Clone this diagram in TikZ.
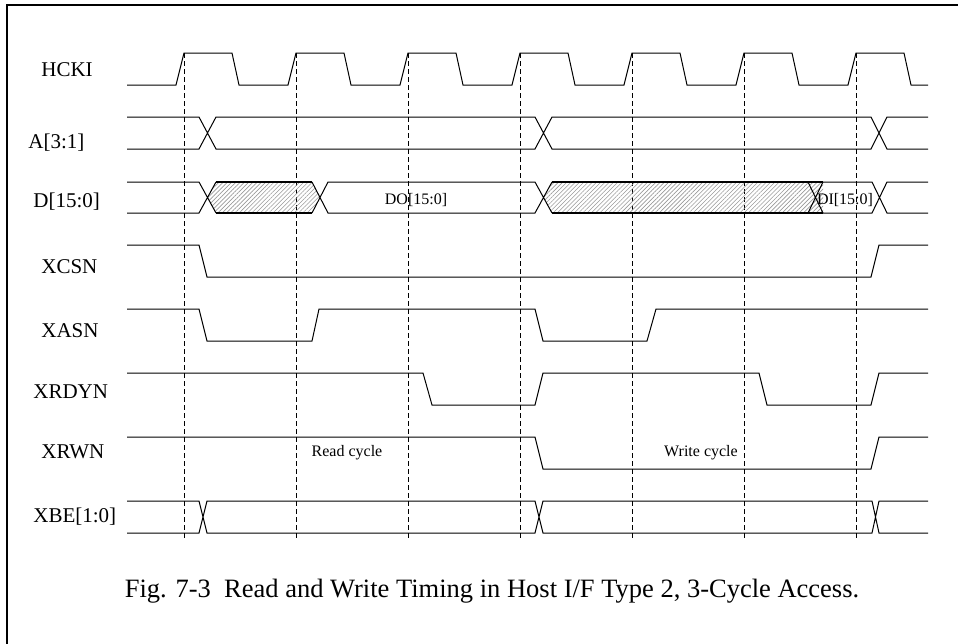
\documentclass[tikz,border=0pt]{standalone}
\usepackage{fontspec}
\setmainfont{Liberation Serif}
\usetikzlibrary{patterns.meta}
\tikzset{
  sig/.style={line width=.5pt},
  busedge/.style={line width=.8pt},
  guide/.style={line width=.45pt, dash pattern=on 2.5pt off 1.5pt},
  lbl/.style={anchor=base west, inner sep=0pt, font=\fontsize{10.5}{12}\selectfont},
  note/.style={anchor=base, inner sep=0pt, font=\fontsize{8}{9.6}\selectfont},
  hatch/.style={pattern={Lines[angle=45,distance=1.5pt,line width=.3pt]}, pattern color=gray!80}
}
\begin{document}
\begin{tikzpicture}[x=.5pt,y=-.5pt]
    \useasboundingbox (0,0) rectangle (958,643);
    \draw[line width=1pt] (7,660) -- (7,5) -- (970,5);

    \node[lbl] (HCKI) at (41,76) {HCKI};
    \node[lbl] (A) at (28,148) {A[3:1]};
    \node[lbl] (D) at (33,207) {D[15:0]};
    \node[lbl] (XCSN) at (41,273) {XCSN};
    \node[lbl] (XASN) at (41,337) {XASN};
    \node[lbl] (XRDYN) at (33,398) {XRDYN};
    \node[lbl] (XRWN) at (41,458) {XRWN};
    \node[lbl] (XBE) at (33,522) {XBE[1:0]};

    % clock edges and guide lines
    \foreach \k in {0,...,6}
      \draw[guide] ({184+112*\k},53) -- ({184+112*\k},540);
    \draw[sig] (127,85)
      \foreach \k in {0,...,6} {
        -- ({176+112*\k},85) -- ({184+112*\k},53)
        -- ({232+112*\k},53) -- ({239+112*\k},85)}
      -- (928,85);

    \draw[sig]
    (127,117) -- (199,117) -- (216,149) -- (535,149) -- (552,117) -- (871,117) -- (887,149) -- (928,149)
    (127,149) -- (199,149) -- (216,117) -- (535,117) -- (552,149) -- (871,149) -- (887,117) -- (928,117);

    \fill[hatch] (207.5,197.5) -- (216,182) -- (312,182) -- (320,197.5) -- (312,213) -- (216,213) -- cycle;
    \fill[hatch] (543.5,197.5) -- (552,182) -- (823,182) -- (823,213) -- (552,213) -- cycle;
    \draw[sig]
    (127,182) -- (199,182) -- (216,213)
    (312,213) -- (328,182) -- (535,182) -- (552,213)
    (808,213) -- (823,182) -- (872,182) -- (887,213) -- (928,213)
    (127,213) -- (199,213) -- (216,182)
    (312,182) -- (328,213) -- (535,213) -- (552,182)
    (808,182) -- (823,213) -- (872,213) -- (887,182) -- (928,182);
    \draw[busedge]
    (216,182) -- (312,182) (216,213) -- (312,213)
    (552,182) -- (823,182) (552,213) -- (823,213);
    \node[note] (DO) at (416,204) {DO[15:0]};
    \node[note] (DI) at (845,204) {DI[15:0]};

    \draw[sig]
    (127,245) -- (199,245) -- (207,277) -- (871,277) -- (879,245) -- (928,245);
    \draw[sig]
    (127,309) -- (199,309) -- (207,341) -- (312,341) -- (319,309) -- (535,309)
    -- (543,341) -- (647,341) -- (656,309) -- (928,309);
    \draw[sig]
    (127,373) -- (423,373) -- (432,405) -- (535,405) -- (543,373) -- (759,373)
    -- (767,405) -- (871,405) -- (879,373) -- (928,373);
    \draw[sig]
    (127,437) -- (535,437) -- (543,469) -- (871,469) -- (879,437) -- (928,437);
    \node[note] (rd) at (347,456) {Read cycle};
    \node[note] (wr) at (701,456) {Write cycle};

    \draw[sig]
    (127,501) -- (199,501) -- (207,533) -- (535,533) -- (543,501) -- (872,501) -- (879,533) -- (928,533)
    (127,533) -- (199,533) -- (207,501) -- (535,501) -- (543,533) -- (872,533) -- (879,501) -- (928,501);

    \node[anchor=base, inner sep=0pt, font=\fontsize{13.25}{15}\selectfont] (cap) at (492,597)
      {Fig. 7-3\ \ Read and Write Timing in Host I/F Type 2, 3-Cycle Access.};
\end{tikzpicture}
\end{document}
